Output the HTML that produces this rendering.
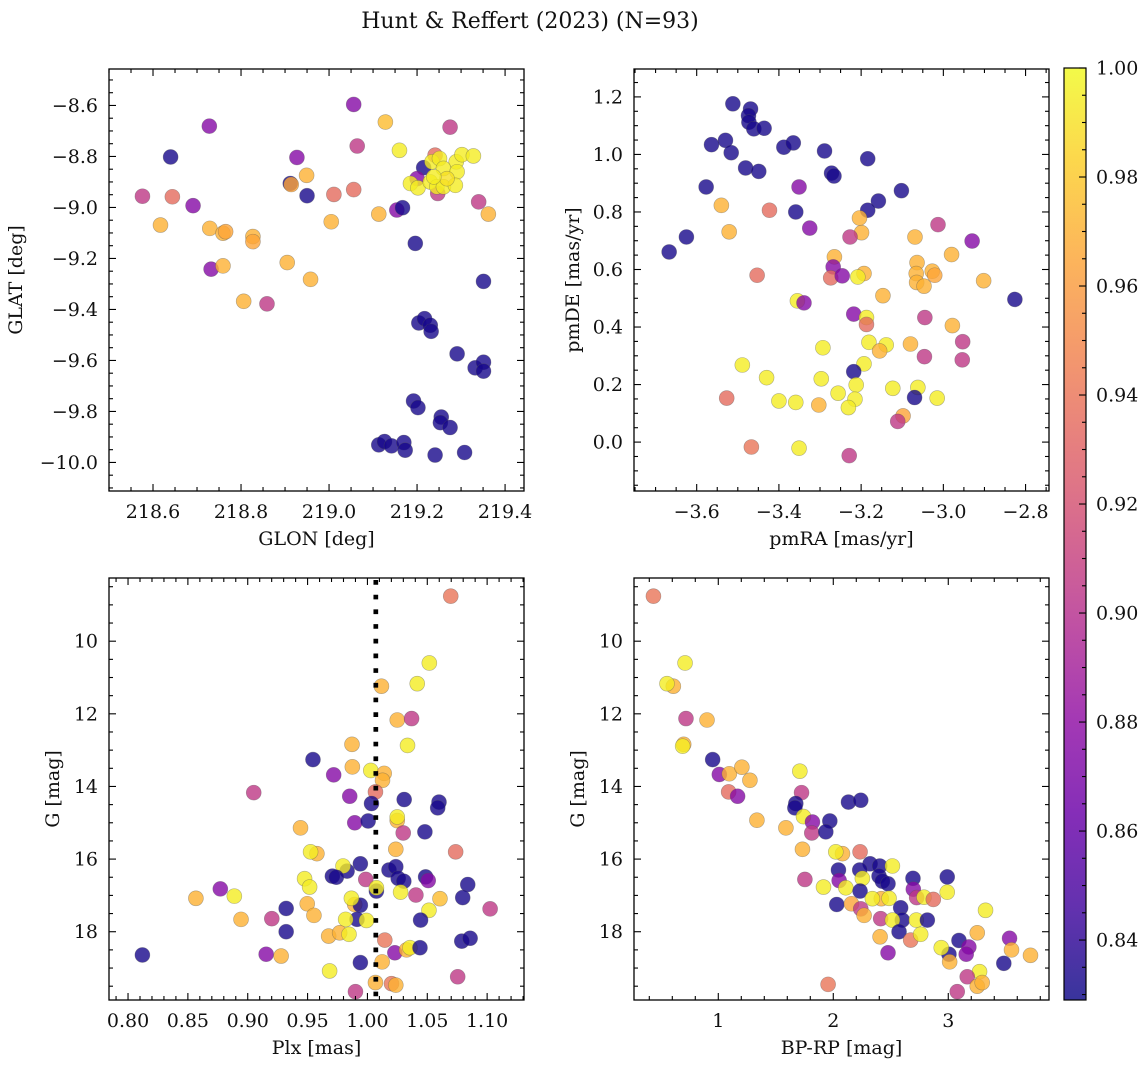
<!DOCTYPE html>
<html><head><meta charset="utf-8"><title>Hunt & Reffert (2023)</title>
<style>
html,body{margin:0;padding:0;background:#fff;}
svg{display:block;font-family:"DejaVu Serif","Liberation Serif",serif;}
</style></head>
<body>
<svg id="chart" xmlns="http://www.w3.org/2000/svg" width="1148" height="1068" viewBox="0 0 1148 1068">
<defs>
<linearGradient id="plasmaGrad" x1="0" y1="1" x2="0" y2="0"></linearGradient>
<clipPath id="clip1"><rect x="109" y="69" width="415" height="422"/></clipPath>
<clipPath id="clip2"><rect x="634" y="69" width="415" height="422"/></clipPath>
<clipPath id="clip3"><rect x="109" y="578" width="415" height="422"/></clipPath>
<clipPath id="clip4"><rect x="634" y="578" width="415" height="422"/></clipPath>
</defs>
<text x="530" y="28" font-size="22" text-anchor="middle" fill="#111">Hunt &amp; Reffert (2023) (N=93)</text>
</svg>
<script>
// ---------- Panel 1: GLON vs GLAT ----------
const p1Glon=[219.056,218.728,219.128,219.275,219.064,219.160,218.640,218.927,218.949,218.912,
218.914,218.950,218.576,218.644,218.691,219.011,219.056,219.340,219.362,219.113,
219.154,219.167,218.617,218.729,218.759,218.765,218.827,218.827,219.005,219.196,
218.732,218.759,218.905,218.958,219.351,218.806,218.859,219.204,219.217,219.230,
219.232,219.291,219.332,219.351,219.351,219.192,219.202,219.255,219.253,219.275,
219.113,219.126,219.142,219.170,219.173,219.241,219.308,
219.215,219.241,219.200,219.247,
219.185,219.202,219.234,219.251,219.289,219.302,219.328,219.260,219.291,219.230,219.245,219.260,219.287,219.268,219.238];
const p1Glat=[-8.596,-8.681,-8.665,-8.685,-8.759,-8.776,-8.802,-8.804,-8.874,-8.906,
-8.910,-8.954,-8.956,-8.958,-8.993,-8.949,-8.930,-8.978,-9.026,-9.026,
-9.010,-9.001,-9.069,-9.082,-9.101,-9.095,-9.114,-9.134,-9.056,-9.141,
-9.242,-9.229,-9.216,-9.282,-9.290,-9.368,-9.378,-9.453,-9.436,-9.462,
-9.486,-9.574,-9.629,-9.607,-9.642,-9.759,-9.785,-9.822,-9.844,-9.863,
-9.931,-9.918,-9.935,-9.922,-9.952,-9.971,-9.961,
-8.844,-8.795,-8.887,-8.945,
-8.906,-8.923,-8.821,-8.808,-8.821,-8.793,-8.798,-8.847,-8.860,-8.900,-8.919,-8.919,-8.913,-8.887,-8.880];
const p1Prob=[0.875,0.875,0.975,0.905,0.905,0.995,0.832,0.875,0.970,0.832,
0.965,0.832,0.905,0.935,0.875,0.935,0.935,0.905,0.970,0.970,
0.875,0.832,0.970,0.970,0.970,0.965,0.970,0.965,0.970,0.832,
0.875,0.970,0.970,0.970,0.832,0.970,0.905,0.832,0.832,0.832,
0.832,0.832,0.832,0.832,0.832,0.832,0.832,0.832,0.832,0.832,
0.832,0.832,0.832,0.832,0.832,0.832,0.832,
0.832,0.935,0.875,0.905,
0.995,0.995,0.995,0.995,0.995,0.995,0.995,0.995,0.995,0.995,0.995,0.995,0.995,0.990,0.995];
const p1XTicks=[218.6,218.8,219.0,219.2,219.4];
const p1XLabels=["218.6","218.8","219.0","219.2","219.4"];
const p1YTicks=[-10.0,-9.8,-9.6,-9.4,-9.2,-9.0,-8.8,-8.6];
const p1YLabels=["−10.0","−9.8","−9.6","−9.4","−9.2","−9.0","−8.8","−8.6"];

// ---------- Panel 2: pmRA vs pmDE ----------
const p2PmRA=[-3.512,-3.469,-3.474,-3.473,-3.461,-3.436,-3.530,-3.564,-3.516,-3.388,
-3.365,-3.289,-3.184,-3.481,-3.449,-3.272,-3.266,-3.577,-3.351,-3.102,
-3.158,-3.184,-3.540,-3.423,-3.359,-3.204,-3.325,-3.013,-3.521,-3.625,
-3.667,-3.199,-3.227,-3.069,-2.930,-2.980,-3.265,-3.268,-3.064,-3.453,
-3.274,-3.246,-3.193,-3.208,-3.066,-3.065,-3.047,-3.027,-3.021,-2.902,
-2.826,-3.355,-3.339,-3.147,-3.218,-3.187,-3.187,-3.045,-2.978,-3.293,
-3.181,-3.139,-3.155,-3.080,-3.046,-2.953,-2.954,-3.489,-3.193,-3.218,
-3.430,-3.297,-3.212,-3.256,-3.123,-3.062,-3.070,-3.527,-3.400,-3.359,
-3.303,-3.215,-3.231,-3.015,-3.098,-3.111,-3.467,-3.351,-3.229];
const p2PmDE=[1.176,1.158,1.135,1.112,1.089,1.091,1.049,1.034,1.006,1.025,
1.040,1.012,0.985,0.953,0.941,0.935,0.925,0.887,0.887,0.874,
0.838,0.806,0.823,0.806,0.800,0.779,0.744,0.756,0.731,0.713,
0.661,0.728,0.713,0.713,0.699,0.652,0.644,0.609,0.624,0.580,
0.571,0.578,0.586,0.574,0.586,0.555,0.542,0.594,0.580,0.561,
0.496,0.491,0.484,0.509,0.445,0.433,0.409,0.433,0.405,0.328,
0.347,0.338,0.317,0.341,0.297,0.349,0.286,0.268,0.272,0.245,
0.224,0.220,0.199,0.170,0.187,0.190,0.155,0.153,0.143,0.138,
0.129,0.149,0.120,0.153,0.091,0.072,-0.017,-0.021,-0.047];
const p2Prob=[0.832,0.832,0.832,0.832,0.832,0.832,0.832,0.832,0.832,0.832,
0.832,0.832,0.832,0.832,0.832,0.832,0.832,0.832,0.875,0.832,
0.832,0.832,0.970,0.935,0.832,0.970,0.875,0.905,0.970,0.832,
0.832,0.970,0.905,0.970,0.875,0.970,0.970,0.875,0.970,0.935,
0.935,0.875,0.970,0.995,0.970,0.970,0.970,0.970,0.965,0.970,
0.832,0.995,0.875,0.970,0.875,0.995,0.935,0.905,0.970,0.995,
0.995,0.995,0.970,0.970,0.905,0.905,0.905,0.995,0.995,0.832,
0.995,0.995,0.995,0.995,0.995,0.995,0.832,0.935,0.995,0.995,
0.970,0.995,0.995,0.995,0.965,0.905,0.940,0.995,0.905];
const p2XTicks=[-3.6,-3.4,-3.2,-3.0,-2.8];
const p2XLabels=["−3.6","−3.4","−3.2","−3.0","−2.8"];
const p2YTicks=[0.0,0.2,0.4,0.6,0.8,1.0,1.2];
const p2YLabels=["0.0","0.2","0.4","0.6","0.8","1.0","1.2"];

// ---------- Panel 3: Plx vs G ----------
const p3Plx=[1.0696,1.0517,1.0416,1.0117,1.0249,1.0369,1.0335,0.9871,0.9545,0.9874,
1.0028,1.0140,1.0126,0.9718,0.9050,1.0067,0.9852,1.0034,1.0307,1.0598,
1.0587,1.0249,1.0249,0.9894,1.0006,0.9441,1.0480,1.0299,1.0237,1.0737,
0.9578,0.9525,0.9830,0.9796,0.9941,0.9707,0.9740,1.0180,1.0237,1.0257,
1.0304,1.0486,1.0508,0.9986,0.9475,0.9517,1.0838,0.8771,0.8888,0.8567,
1.0075,1.0075,1.0277,1.0405,1.0606,0.9894,0.9941,0.9866,1.0796,0.9497,
1.0514,1.1025,0.9321,0.9553,0.8944,0.9201,1.0444,0.9913,0.9818,0.9992,
0.9321,0.9676,0.9768,0.9846,1.0145,1.0788,1.0858,1.0229,1.0327,1.0355,
1.0439,0.8120,0.9154,0.9279,0.9941,1.0123,0.9684,1.0754,1.0067,1.0201,
1.0237,0.9900];
const p3G=[8.76,10.60,11.17,11.24,12.17,12.13,12.87,12.84,13.26,13.46,
13.56,13.64,13.83,13.68,14.17,14.15,14.27,14.47,14.36,14.43,
14.59,14.94,14.84,15.00,14.95,15.14,15.25,15.28,15.73,15.80,
15.85,15.80,16.33,16.19,16.13,16.47,16.50,16.30,16.21,16.53,
16.61,16.49,16.59,16.56,16.54,16.77,16.70,16.82,17.02,17.08,
16.88,16.79,16.91,16.99,17.09,17.25,17.27,17.08,17.06,17.23,
17.41,17.37,17.36,17.55,17.66,17.64,17.68,17.66,17.66,17.69,
18.00,18.12,18.03,18.07,18.23,18.26,18.18,18.58,18.50,18.44,
18.44,18.64,18.62,18.67,18.85,18.83,19.08,19.24,19.40,19.43,
19.47,19.65];
const p3Prob=[0.940,0.995,0.995,0.970,0.970,0.905,0.995,0.970,0.832,0.970,
0.995,0.970,0.970,0.875,0.905,0.935,0.875,0.832,0.832,0.832,
0.832,0.970,0.995,0.875,0.832,0.970,0.832,0.905,0.970,0.935,
0.970,0.995,0.832,0.995,0.832,0.832,0.832,0.832,0.832,0.832,
0.832,0.832,0.875,0.905,0.995,0.995,0.832,0.875,0.995,0.970,
0.832,0.995,0.995,0.905,0.975,0.970,0.832,0.995,0.832,0.970,
0.995,0.905,0.832,0.970,0.970,0.905,0.832,0.832,0.995,0.995,
0.832,0.970,0.970,0.995,0.940,0.832,0.832,0.875,0.970,0.995,
0.832,0.832,0.875,0.970,0.832,0.970,0.995,0.905,0.970,0.940,
0.970,0.905];
const p3ClusterPlx=[1.007];
const p3XTicks=[0.80,0.85,0.90,0.95,1.00,1.05,1.10];
const p3XLabels=["0.80","0.85","0.90","0.95","1.00","1.05","1.10"];
const gTicks=[10,12,14,16,18];
const gLabels=["10","12","14","16","18"];

// ---------- Panel 4: BP-RP vs G ----------
const p4BpRp=[0.436,0.711,0.609,0.554,0.719,0.902,0.699,0.690,0.951,1.009,
1.096,1.205,1.275,1.090,1.168,1.709,1.724,1.674,1.666,2.132,
2.239,1.741,1.819,1.813,1.970,1.935,1.336,1.588,1.732,2.080,
2.022,2.233,2.320,2.404,2.514,2.045,2.230,2.398,2.427,2.476,
2.253,2.051,1.753,1.915,2.109,2.233,2.693,2.696,2.725,2.789,
2.870,2.991,2.991,2.030,2.158,2.418,2.340,2.485,2.239,2.268,
2.412,2.586,2.600,2.514,2.722,2.818,3.324,2.572,2.407,2.673,
2.760,3.252,2.476,3.093,3.006,2.939,3.012,3.179,3.156,3.533,
3.550,3.715,3.483,3.272,3.165,3.252,3.295,3.078,1.955];
const p4G=[8.76,10.60,11.24,11.17,12.13,12.17,12.84,12.89,13.26,13.67,
13.65,13.47,13.83,14.15,14.27,13.58,14.17,14.47,14.59,14.43,
14.38,14.83,14.98,15.28,14.95,15.25,14.93,15.14,15.73,15.85,
15.80,15.80,16.13,16.19,16.19,16.30,16.30,16.47,16.61,16.68,
16.53,16.59,16.56,16.77,16.79,16.88,16.53,16.83,17.06,17.05,
17.11,16.49,16.91,17.25,17.23,17.09,17.09,17.08,17.37,17.55,
17.64,17.34,17.68,17.68,17.68,17.68,17.41,18.00,18.14,18.23,
18.07,18.03,18.58,18.24,18.62,18.44,18.83,18.42,18.62,18.18,
18.50,18.65,18.87,19.10,19.24,19.50,19.40,19.65,19.45];
const p4Prob=[0.940,0.995,0.970,0.995,0.905,0.970,0.970,0.995,0.832,0.875,
0.970,0.970,0.970,0.935,0.875,0.995,0.905,0.832,0.832,0.832,
0.832,0.995,0.875,0.905,0.832,0.832,0.970,0.970,0.970,0.970,
0.995,0.935,0.832,0.832,0.995,0.832,0.832,0.832,0.832,0.832,
0.995,0.875,0.905,0.995,0.995,0.832,0.832,0.875,0.905,0.995,
0.935,0.832,0.995,0.832,0.965,0.970,0.995,0.995,0.905,0.970,
0.905,0.832,0.832,0.995,0.995,0.832,0.995,0.832,0.970,0.940,
0.995,0.970,0.875,0.832,0.832,0.995,0.970,0.875,0.875,0.875,
0.970,0.970,0.832,0.995,0.905,0.970,0.970,0.905,0.940];
const p4XTicks=[1,2,3];
const p4XLabels=["1","2","3"];

// ---------- Colorbar ----------
const cbTicks=[0.84,0.86,0.88,0.90,0.92,0.94,0.96,0.98,1.00];
const cbLabels=["0.84","0.86","0.88","0.90","0.92","0.94","0.96","0.98","1.00"];
const cbRange=[0.829,1.0];

const NS="http://www.w3.org/2000/svg";
const svg=document.getElementById('chart');
const FS=19;
const plasmaStops=["#0d0887","#41049d","#6a00a8","#8f0da4","#b12a90","#cc4778","#e16462","#f2844b","#fca636","#fcce25","#f0f921"];
function hex(h){return [parseInt(h.slice(1,3),16),parseInt(h.slice(3,5),16),parseInt(h.slice(5,7),16)];}
function plasma(t){
  t=Math.max(0,Math.min(1,t));
  const f=t*10, i=Math.min(9,Math.floor(f)), u=f-i;
  const a=hex(plasmaStops[i]), b=hex(plasmaStops[i+1]);
  return "rgb("+a.map((v,k)=>Math.round(v+(b[k]-v)*u)).join(",")+")";
}
function colorOf(p){return plasma((p-cbRange[0])/(cbRange[1]-cbRange[0]));}
function el(tag,attrs,parent){const e=document.createElementNS(NS,tag);for(const k in attrs)e.setAttribute(k,attrs[k]);(parent||svg).appendChild(e);return e;}
function lin(d0,d1,r0,r1){return v=>r0+(v-d0)/(d1-d0)*(r1-r0);}
function minorVals(lo,hi,step,majors){
  const out=[];const n0=Math.ceil(lo/step-1e-6), n1=Math.floor(hi/step+1e-6);
  for(let n=n0;n<=n1;n++){const v=n*step;if(!majors.some(m=>Math.abs(m-v)<step*0.01))out.push(v);}
  return out;
}

function drawPanel(cfg){
  const g=el('g',{});
  
  
  const sx=lin(cfg.xd[0],cfg.xd[1],cfg.x0,cfg.x1);
  const sy=lin(cfg.yd[0],cfg.yd[1],cfg.y1,cfg.y0);
  const pts=el('g',{'clip-path':'url(#'+cfg.clip+')'},g);
  
  
  for(let i=0;i<cfg.xs.length;i++){
    const c=el('circle',{cx:sx(cfg.xs[i]).toFixed(2),cy:sy(cfg.ys[i]).toFixed(2),r:7.5,fill:colorOf(cfg.ps[i]),'fill-opacity':0.8,stroke:'#555','stroke-opacity':0.45,'stroke-width':0.6},pts);
    
    
  }
  if(cfg.vline){
    for(const v of cfg.vline){
      const l=el('line',{x1:sx(v),x2:sx(v),y1:cfg.y0+2,y2:cfg.y1,stroke:'#000','stroke-width':4.7,'stroke-dasharray':'4.7 10'},g);
      
      
    }
  }
  const fr=el('rect',{x:cfg.x0,y:cfg.y0,width:cfg.x1-cfg.x0,height:cfg.y1-cfg.y0,fill:'none',stroke:'#000','stroke-width':1.3},g);
  
  
  const tk=el('g',{stroke:'#000','stroke-width':1.1},g);
  
  
  const xmin=Math.min(cfg.xd[0],cfg.xd[1]),xmax=Math.max(cfg.xd[0],cfg.xd[1]);
  const ymin=Math.min(cfg.yd[0],cfg.yd[1]),ymax=Math.max(cfg.yd[0],cfg.yd[1]);
  function xt(v,len){const x=sx(v);el('line',{x1:x,x2:x,y1:cfg.y1,y2:cfg.y1-len},tk);el('line',{x1:x,x2:x,y1:cfg.y0,y2:cfg.y0+len},tk);}
  function yt(v,len){const y=sy(v);el('line',{x1:cfg.x0,x2:cfg.x0+len,y1:y,y2:y},tk);el('line',{x1:cfg.x1,x2:cfg.x1-len,y1:y,y2:y},tk);}
  cfg.xt.forEach(v=>xt(v,7));
  minorVals(xmin,xmax,cfg.xminor,cfg.xt).forEach(v=>xt(v,4));
  cfg.yt.forEach(v=>yt(v,7));
  minorVals(ymin,ymax,cfg.yminor,cfg.yt).forEach(v=>yt(v,4));
  cfg.xt.forEach((v,i)=>{
    const t=el('text',{x:sx(v),y:cfg.y1+27,'font-size':FS,'text-anchor':'middle',fill:'#111'},g);
    t.textContent=cfg.xtl[i];
    
    
  });
  cfg.yt.forEach((v,i)=>{
    const t=el('text',{x:cfg.x0-11,y:sy(v)+6.5,'font-size':FS,'text-anchor':'end',fill:'#111'},g);
    t.textContent=cfg.ytl[i];
    
    
  });
  const xl=el('text',{x:(cfg.x0+cfg.x1)/2,y:cfg.y1+54,'font-size':FS,'text-anchor':'middle',fill:'#111'},g);
  xl.textContent=cfg.xlabel;
  
  
  const ycy=(cfg.y0+cfg.y1)/2;
  const yl=el('text',{x:cfg.ylx,y:ycy,'font-size':FS,'text-anchor':'middle',fill:'#111',transform:'rotate(-90 '+cfg.ylx+' '+ycy+')'},g);
  yl.textContent=cfg.ylabel;
  
  
}

drawPanel({name:'glon-glat-panel',clip:'clip1',x0:109,y0:69,x1:524,y1:491,xd:[218.5,219.443],yd:[-10.112,-8.457],
  xs:p1Glon,ys:p1Glat,ps:p1Prob,xt:p1XTicks,xtl:p1XLabels,xminor:0.05,yt:p1YTicks,ytl:p1YLabels,yminor:0.05,
  xlabel:'GLON [deg]',ylabel:'GLAT [deg]',ylx:22});
drawPanel({name:'pmra-pmde-panel',clip:'clip2',x0:634,y0:69,x1:1049,y1:491,xd:[-3.7525,-2.743],yd:[-0.170,1.297],
  xs:p2PmRA,ys:p2PmDE,ps:p2Prob,xt:p2XTicks,xtl:p2XLabels,xminor:0.05,yt:p2YTicks,ytl:p2YLabels,yminor:0.05,
  xlabel:'pmRA [mas/yr]',ylabel:'pmDE [mas/yr]',ylx:579});
drawPanel({name:'plx-g-panel',clip:'clip3',x0:109,y0:578,x1:524,y1:1000,xd:[0.7841,1.1308],yd:[19.88,8.26],
  xs:p3Plx,ys:p3G,ps:p3Prob,xt:p3XTicks,xtl:p3XLabels,xminor:0.01,yt:gTicks,ytl:gLabels,yminor:0.5,
  xlabel:'Plx [mas]',ylabel:'G [mag]',ylx:59,vline:p3ClusterPlx});
drawPanel({name:'color-magnitude-panel',clip:'clip4',x0:634,y0:578,x1:1049,y1:1000,xd:[0.267,3.876],yd:[19.88,8.26],
  xs:p4BpRp,ys:p4G,ps:p4Prob,xt:p4XTicks,xtl:p4XLabels,xminor:0.2,yt:gTicks,ytl:gLabels,yminor:0.5,
  xlabel:'BP-RP [mag]',ylabel:'G [mag]',ylx:584});

(function(){
  const grad=document.getElementById('plasmaGrad');
  for(let i=0;i<=20;i++){el('stop',{offset:(i/20),'stop-color':plasma(i/20)},grad);}
  const x0=1064,x1=1086,y0=68,y1=1000;
  const g=el('g',{});
  
  
  const r=el('rect',{x:x0,y:y0,width:x1-x0,height:y1-y0,fill:'url(#plasmaGrad)','fill-opacity':0.82},g);
  
  
  el('rect',{x:x0,y:y0,width:x1-x0,height:y1-y0,fill:'none',stroke:'#000','stroke-width':1.2},g);
  const sy=lin(cbRange[0],cbRange[1],y1,y0);
  const tk=el('g',{stroke:'#000','stroke-width':1.1},g);
  cbTicks.forEach((v,i)=>{
    const y=sy(v);
    el('line',{x1:x1,x2:x1-7,y1:y,y2:y},tk);
    const t=el('text',{x:x1+10,y:y+6.5,'font-size':FS,fill:'#111',stroke:'none'},g);
    t.textContent=cbLabels[i];
    
    
  });
  minorVals(cbRange[0],cbRange[1],0.005,cbTicks).forEach(v=>{const y=sy(v);el('line',{x1:x1,x2:x1-4,y1:y,y2:y},tk);});
})();
</script>
</body></html>
